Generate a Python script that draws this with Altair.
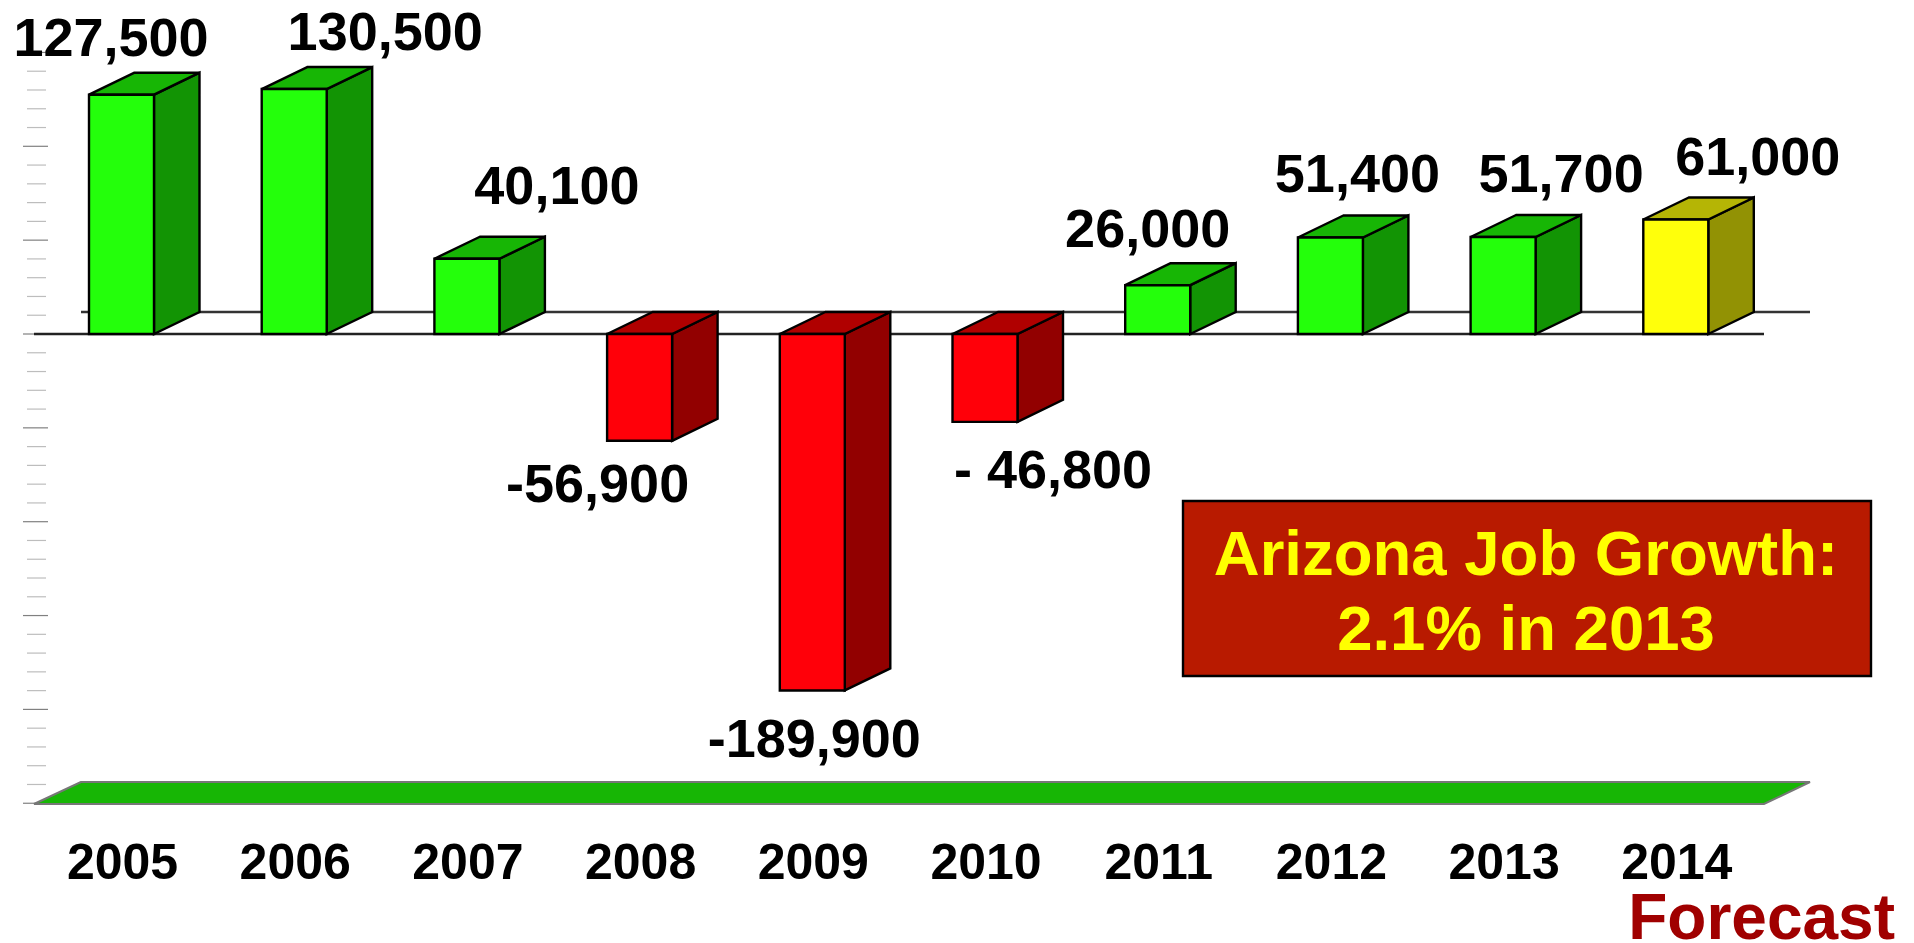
import altair as alt
import pandas as pd

YEARS = [2005, 2006, 2007, 2008, 2009, 2010, 2011, 2012, 2013, 2014]
VALUES = [127500, 130500, 40100, -56900, -189900, -46800, 26000, 51400, 51700, 61000]
LABELS = ["127,500", "130,500", "40,100", "-56,900", "-189,900", "- 46,800",
          "26,000", "51,400", "51,700", "61,000"]
FORECAST_YEARS = [2014]

# label offsets from the end of each bar, in pixels
LABEL_DX = [-10.5, 91, 90, -42, 2, 68, -10, 27, 58, 82]
LABEL_DY = [-39, -39, -55, 61, 67, 66, -38, -45.5, -45, -44.5]

TICK_STEP = 10000
TICK_MIN, TICK_MAX = -250000, 150000

W, H = 1898, 935
PX_PER_YEAR = 172.7
PX_PER_JOB = 1.877 / 1000
ZERO_PY = 326.0          # zero line, plot px
FIRST_CENTER_PX = 113.5  # centre of the 2005 bar, plot px

def xv(px):
    return YEARS[0] + (px - FIRST_CENTER_PX) / PX_PER_YEAR

def yv(py):
    return (ZERO_PY - py) / PX_PER_JOB

BAR_HALF = 32.5 / PX_PER_YEAR
DEPTH_X = 45.5 / PX_PER_YEAR
DEPTH_Y = 22 / PX_PER_JOB
FLOOR_FRONT = yv(796)
FLOOR_BACK = FLOOR_FRONT + DEPTH_Y

x_scale = alt.Scale(domain=[xv(0), xv(W)], nice=False, zero=False)
y_scale = alt.Scale(domain=[yv(H), yv(0)], nice=False, zero=False)
X = lambda f: alt.X(f, type="quantitative", scale=x_scale, axis=None)
Y = lambda f: alt.Y(f, type="quantitative", scale=y_scale, axis=None)

def palette(year, value):
    if year in FORECAST_YEARS:
        return "#ffff0b", "#929204", "#b5b505"
    if value >= 0:
        return "#24ff0b", "#129404", "#17b605"
    return "#ff0009", "#920000", "#b00000"

front, side, top = [], [], []
for yr, v in zip(YEARS, VALUES):
    f_col, s_col, t_col = palette(yr, v)
    l, r = yr - BAR_HALF, yr + BAR_HALF
    up = max(v, 0)
    low = min(v, 0)
    front.append(dict(x=l, x2=r, y=low, y2=up, c=f_col))
    side.append(dict(yr=yr, x=r, y=low, y2=up, c=s_col))
    side.append(dict(yr=yr, x=r + DEPTH_X, y=low + DEPTH_Y, y2=up + DEPTH_Y, c=s_col))
    top.append(dict(yr=yr, y=up, x=l, x2=r, c=t_col))
    top.append(dict(yr=yr, y=up + DEPTH_Y, x=l + DEPTH_X, x2=r + DEPTH_X, c=t_col))

colour = alt.Color("c:N", scale=None, legend=None)

# left-hand tick marks
ticks = []
for v in range(TICK_MIN, TICK_MAX + 1, TICK_STEP):
    major = v % 50000 == 0
    ticks.append(dict(y=v, x=xv(15 if major else 19), x2=xv(40 if major else 38),
                      c="#808080" if major else "#bdbdbd"))
tick_layer = alt.Chart(pd.DataFrame(ticks)).mark_rule(strokeWidth=1.2).encode(
    x=X("x"), x2="x2", y=Y("y"), color=colour)

# base lines
front_left, front_right = xv(26), xv(1756)
back_left, back_right = xv(26 + 47), xv(1756 + 46)
back_line = alt.Chart(pd.DataFrame([dict(x=back_left, x2=back_right, y=DEPTH_Y)])).mark_rule(
    color="#333333", strokeWidth=2.4).encode(x=X("x"), x2="x2", y=Y("y"))
zero_line = alt.Chart(pd.DataFrame([dict(x=front_left, x2=front_right, y=0)])).mark_rule(
    color="#222222", strokeWidth=2.4).encode(x=X("x"), x2="x2", y=Y("y"))

# floor
floor = alt.Chart(pd.DataFrame([
    dict(y=FLOOR_FRONT, x=front_left, x2=front_right),
    dict(y=FLOOR_BACK, x=back_left, x2=back_right),
])).mark_area(orient="horizontal", color="#17b605", stroke="#777777", strokeWidth=2).encode(
    y=Y("y"), x=X("x"), x2="x2")

# 3D bar faces
side_layer = alt.Chart(pd.DataFrame(side)).mark_area(
    stroke="black", strokeWidth=2.4, opacity=1).encode(
    x=X("x"), y=Y("y"), y2="y2", color=colour, detail="yr:O")
top_layer = alt.Chart(pd.DataFrame(top)).mark_area(
    orient="horizontal", stroke="black", strokeWidth=2.4, opacity=1).encode(
    y=Y("y"), x=X("x"), x2="x2", color=colour, detail="yr:O")
front_layer = alt.Chart(pd.DataFrame(front)).mark_rect(
    stroke="black", strokeWidth=2.4).encode(
    x=X("x"), x2="x2", y=Y("y"), y2="y2", color=colour)

FONT = "Liberation Sans"
TXT = dict(font=FONT, fontWeight="bold", baseline="alphabetic")

# value labels
label_rows = [
    dict(x=yr + dx / PX_PER_YEAR, y=v - dy / PX_PER_JOB, t=t)
    for yr, v, t, dx, dy in zip(YEARS, VALUES, LABELS, LABEL_DX, LABEL_DY)
]
value_labels = alt.Chart(pd.DataFrame(label_rows)).mark_text(
    fontSize=54, color="black", align="center", **TXT).encode(
    x=X("x"), y=Y("y"), text="t:N")

# year labels
year_labels = alt.Chart(pd.DataFrame([dict(x=yr + 1 / PX_PER_YEAR, y=yv(871), t=str(yr)) for yr in YEARS])).mark_text(
    fontSize=50, color="black", align="center", **TXT).encode(
    x=X("x"), y=Y("y"), text="t:N")

# callout box
box = alt.Chart(pd.DataFrame([dict(a=1)])).mark_rect(
    color="#b81a00", stroke="black", strokeWidth=2.4).encode(
    x=alt.value(1175), x2=alt.value(1863), y=alt.value(493), y2=alt.value(668))
box_l1 = alt.Chart(pd.DataFrame([dict(t="Arizona Job Growth:")])).mark_text(
    fontSize=63.5, color="#ffff00", align="center", **TXT).encode(
    x=alt.value(1518), y=alt.value(567), text="t:N")
box_l2 = alt.Chart(pd.DataFrame([dict(t="2.1% in 2013")])).mark_text(
    fontSize=63.5, color="#ffff00", align="center", **TXT).encode(
    x=alt.value(1518), y=alt.value(642), text="t:N")
forecast = alt.Chart(pd.DataFrame([dict(t="Forecast")])).mark_text(
    fontSize=64, color="#a00000", align="right", **TXT).encode(
    x=alt.value(1887), y=alt.value(931), text="t:N")

chart = alt.layer(
    tick_layer, floor, back_line, zero_line, side_layer, top_layer, front_layer,
    value_labels, year_labels, box, box_l1, box_l2, forecast,
).properties(
    width=W, height=H, padding=0, autosize=alt.AutoSizeParams(type="none"), background="white"
).configure_view(stroke=None)

chart.save("out.html", embed_options={"renderer": "svg", "actions": False})
